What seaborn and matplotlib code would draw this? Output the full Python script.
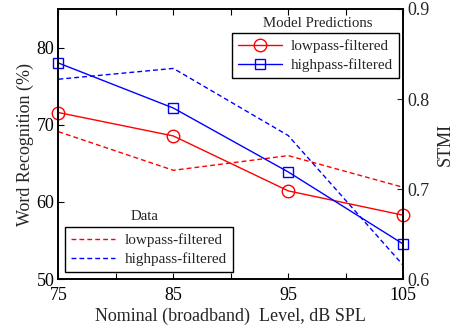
import matplotlib
matplotlib.use("Agg")
import matplotlib.pyplot as plt
import seaborn as sns
import pandas as pd
from matplotlib.lines import Line2D

levels = [75, 85, 95, 105]
data_lowpass = [69.1, 64.1, 66.0, 61.9]
data_highpass = [75.9, 77.3, 68.6, 51.8]
model_lowpass = [0.785, 0.759, 0.698, 0.671]
model_highpass = [0.840, 0.790, 0.719, 0.639]
xtick_labels = ["75", "", "85", "", "95", "", "105"]

sns.set_style("ticks")
plt.rcParams["font.family"] = ["Liberation Serif", "DejaVu Serif"]
plt.rcParams["mathtext.fontset"] = "stix"

fig = plt.figure(figsize=(4.53, 3.28), dpi=100)
ax = fig.add_axes([0.129, 0.149, 0.761, 0.8236])
ax2 = ax.twinx()

df_data = pd.DataFrame({"level": levels + levels,
                        "value": data_lowpass + data_highpass,
                        "series": ["lowpass-filtered"] * 4 + ["highpass-filtered"] * 4})
df_model = pd.DataFrame({"level": levels + levels,
                         "value": model_lowpass + model_highpass,
                         "series": ["lowpass-filtered"] * 4 + ["highpass-filtered"] * 4})

red = "#ff0000"
blue = "#0000ff"

sns.lineplot(data=df_data[df_data.series == "lowpass-filtered"], x="level", y="value",
             ax=ax, color=red, linestyle="--", linewidth=1.0, legend=False)
sns.lineplot(data=df_data[df_data.series == "highpass-filtered"], x="level", y="value",
             ax=ax, color=blue, linestyle="--", linewidth=1.0, legend=False)
sns.lineplot(data=df_model[df_model.series == "lowpass-filtered"], x="level", y="value",
             ax=ax2, color=red, linewidth=1.0, marker="o", markersize=9,
             markerfacecolor="none", markeredgecolor=red, markeredgewidth=1.0, legend=False)
sns.lineplot(data=df_model[df_model.series == "highpass-filtered"], x="level", y="value",
             ax=ax2, color=blue, linewidth=1.0, marker="s", markersize=7.5,
             markerfacecolor="none", markeredgecolor=blue, markeredgewidth=1.0, legend=False)
for ln in ax2.lines:
    ln.set_clip_on(False)
for ln in ax.lines:
    ln.set_dashes([3.5, 2.2])

ax.set_xlim(75, 105)
ax.set_ylim(50, 85)
ax2.set_ylim(0.6, 0.9)
ax.set_xticks([75, 80, 85, 90, 95, 100, 105])
ax.set_xticklabels(xtick_labels)
ax.set_yticks([50, 60, 70, 80])
ax2.set_yticks([0.6, 0.7, 0.8, 0.9])
ax2.set_yticklabels(["0.6", "0.7", "0.8", "0.9"])

for a in (ax, ax2):
    for s in a.spines.values():
        s.set_visible(True)
        s.set_linewidth(1.2)
        s.set_color("black")
ax.tick_params(axis="x", direction="in", length=4, width=0.8, labelsize=13,
               top=True, colors="black", pad=6)
ax.tick_params(axis="y", direction="in", length=4, width=0.8, labelsize=13,
               colors="black", pad=3)
ax2.tick_params(axis="y", direction="in", length=4, width=0.8, labelsize=13, pad=3)

ax.set_xlabel("Nominal (broadband)  Level, dB SPL", fontsize=13, labelpad=2)
ax.set_ylabel("Word Recognition (%)", fontsize=13, labelpad=2)
ax2.set_ylabel("STMI", fontsize=13, labelpad=5)

model_handles = [Line2D([], [], color=red, lw=1.0, marker="o", markersize=9,
                        markerfacecolor="none", markeredgewidth=1.0),
                 Line2D([], [], color=blue, lw=1.0, marker="s", markersize=7,
                        markerfacecolor="none", markeredgewidth=1.0)]
data_handles = [Line2D([], [], color=red, lw=1.0, dashes=[3.5, 2.2]),
                Line2D([], [], color=blue, lw=1.0, dashes=[3.5, 2.2])]
labels = ["lowpass-filtered", "highpass-filtered"]

leg1 = ax2.legend(model_handles, labels, loc="upper right", bbox_to_anchor=(0.989, 0.911),
                  borderaxespad=0, fontsize=11, handlelength=2.9, fancybox=False,
                  framealpha=1, edgecolor="black", borderpad=0.4, labelspacing=0.35,
                  handletextpad=0.6)
leg1.get_frame().set_linewidth(1.0)
ax2.add_artist(leg1)
leg2 = ax2.legend(data_handles, labels, loc="lower left", bbox_to_anchor=(0.019, 0.026),
                  borderaxespad=0, fontsize=11, handlelength=2.9, fancybox=False,
                  framealpha=1, edgecolor="black", borderpad=0.4, labelspacing=0.35,
                  handletextpad=0.6)
leg2.get_frame().set_linewidth(1.0)

ax.text(0.752, 0.948, "Model Predictions", transform=ax.transAxes, ha="center",
        va="center", fontsize=10.7)
ax.text(0.251, 0.232, "Data", transform=ax.transAxes, ha="center", va="center", fontsize=10.7)

fig.savefig("out.png", dpi=100)
